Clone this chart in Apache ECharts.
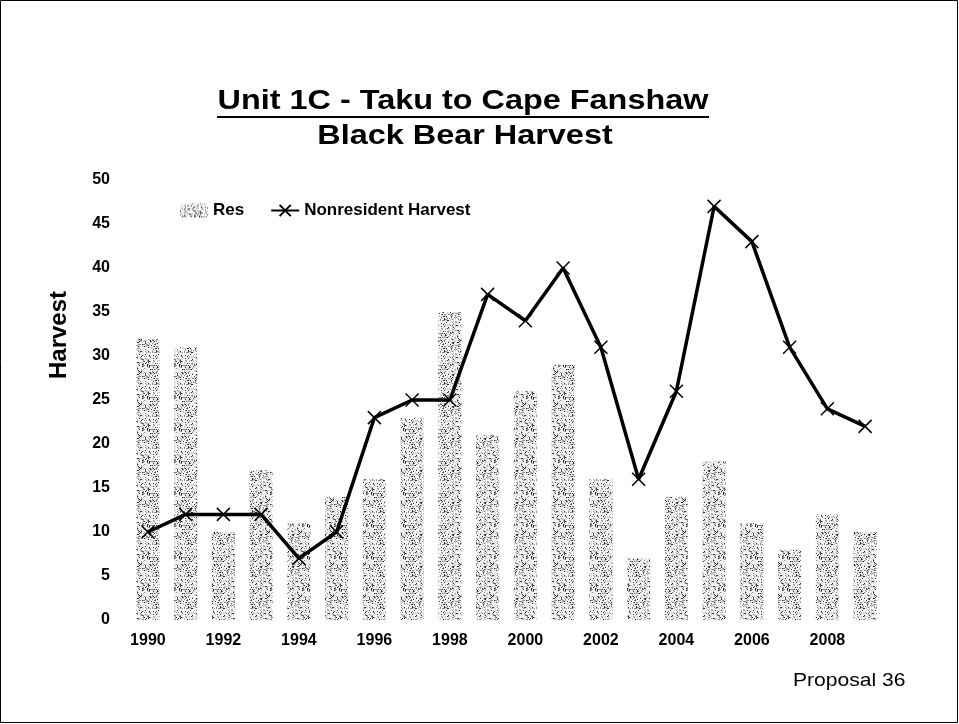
<!DOCTYPE html>
<html>
<head>
<meta charset="utf-8">
<script src="https://cdn.jsdelivr.net/npm/echarts@6/dist/echarts.min.js"></script>
<style>
  html, body { margin: 0; padding: 0; background: #fff; }
  #box { width: 959px; height: 724px; }
</style>
</head>
<body>
<div id="box"></div>
<script>
// data
const years = ['1990','1991','1992','1993','1994','1995','1996','1997','1998','1999',
               '2000','2001','2002','2003','2004','2005','2006','2007','2008','2009'];
const resHarvest = [32, 31, 10, 17, 11, 14, 16, 23, 35, 21, 26, 29, 16, 7, 14, 18, 11, 8, 12, 10];
const nonresHarvest = [10, 12, 12, 12, 7, 10, 23, 25, 25, 37, 34, 40, 31, 16, 26, 47, 43, 31, 24, 22];
const yTicks = [0, 50, 5]; // min, max, step

// speckled fill for the bars (fixed hash, just a texture)
function stipple() {
    const n = 32;
    const c = document.createElement('canvas');
    c.width = n; c.height = n;
    const ctx = c.getContext('2d');
    ctx.fillStyle = '#f7f7f7';
    ctx.fillRect(0, 0, n, n);
    for (let y = 0; y < n; y++) {
        for (let x = 0; x < n; x++) {
            let h = (x * 374761393 + y * 668265263) | 0;
            h = Math.imul(h ^ (h >>> 13), 1274126177);
            h = (h ^ (h >>> 16)) >>> 0;
            const v = h % 100;
            if (v < 9) ctx.fillStyle = '#2a2a2a';
            else if (v < 22) ctx.fillStyle = '#8c8c8c';
            else if (v < 36) ctx.fillStyle = '#cfcfcf';
            else continue;
            ctx.fillRect(x, y, 1, 1);
        }
    }
    return c;
}

const chart = echarts.init(document.getElementById('box'));
const font = 'Liberation Sans, Arial, sans-serif';

chart.setOption({
    animation: false,
    backgroundColor: '#fff',
    graphic: [
        {type: 'rect', shape: {x: 0.5, y: 0.5, width: 957, height: 722},
         style: {fill: 'none', stroke: '#000', lineWidth: 1}},
        {type: 'text', x: 463, y: 102, scaleX: 1.2, style: {
            text: 'Unit 1C - Taku to Cape Fanshaw', font: 'bold 27px ' + font, fill: '#000',
            align: 'center', verticalAlign: 'middle'}},
        {type: 'line', shape: {x1: 217, y1: 117, x2: 709, y2: 117},
         style: {stroke: '#000', lineWidth: 2}},
        {type: 'text', x: 465, y: 137, scaleX: 1.2, style: {
            text: 'Black Bear Harvest', font: 'bold 27px ' + font, fill: '#000',
            align: 'center', verticalAlign: 'middle'}},
        {type: 'text', x: 59, y: 335, rotation: Math.PI / 2, style: {
            text: 'Harvest', font: 'bold 24px ' + font, fill: '#000',
            align: 'center', verticalAlign: 'middle'}},
        {type: 'text', x: 793, y: 681, scaleX: 1.11, style: {
            text: 'Proposal 36', font: '19px ' + font, fill: '#000',
            align: 'left', verticalAlign: 'middle'}}
    ],
    legend: {
        left: 175,
        top: 197,
        itemGap: 26,
        itemWidth: 28,
        itemHeight: 14,
        textStyle: {fontFamily: font, fontWeight: 'bold', fontSize: 17, color: '#000'},
        data: ['Res', 'Nonresident Harvest']
    },
    grid: {left: 129, right: 75, top: 180, bottom: 104},
    xAxis: {
        type: 'category',
        data: years,
        axisLine: {show: false},
        axisTick: {show: false},
        axisLabel: {interval: 1, margin: 13, fontFamily: font, fontWeight: 'bold', fontSize: 16, color: '#000'}
    },
    yAxis: {
        type: 'value',
        min: yTicks[0],
        max: yTicks[1],
        interval: yTicks[2],
        axisLine: {show: false},
        axisTick: {show: false},
        splitLine: {show: false},
        axisLabel: {margin: 19, fontFamily: font, fontWeight: 'bold', fontSize: 16, color: '#000'}
    },
    series: [
        {
            name: 'Res',
            type: 'bar',
            barWidth: 23,
            itemStyle: {color: {image: stipple(), repeat: 'repeat'}},
            data: resHarvest
        },
        {
            name: 'Nonresident Harvest',
            type: 'line',
            symbol: 'path://M0,0L10,10M10,0L0,10',
            symbolSize: 13,
            lineStyle: {color: '#000', width: 3.5},
            itemStyle: {color: '#000', borderColor: '#000', borderWidth: 1.5},
            data: nonresHarvest
        }
    ]
});
</script>
</body>
</html>
